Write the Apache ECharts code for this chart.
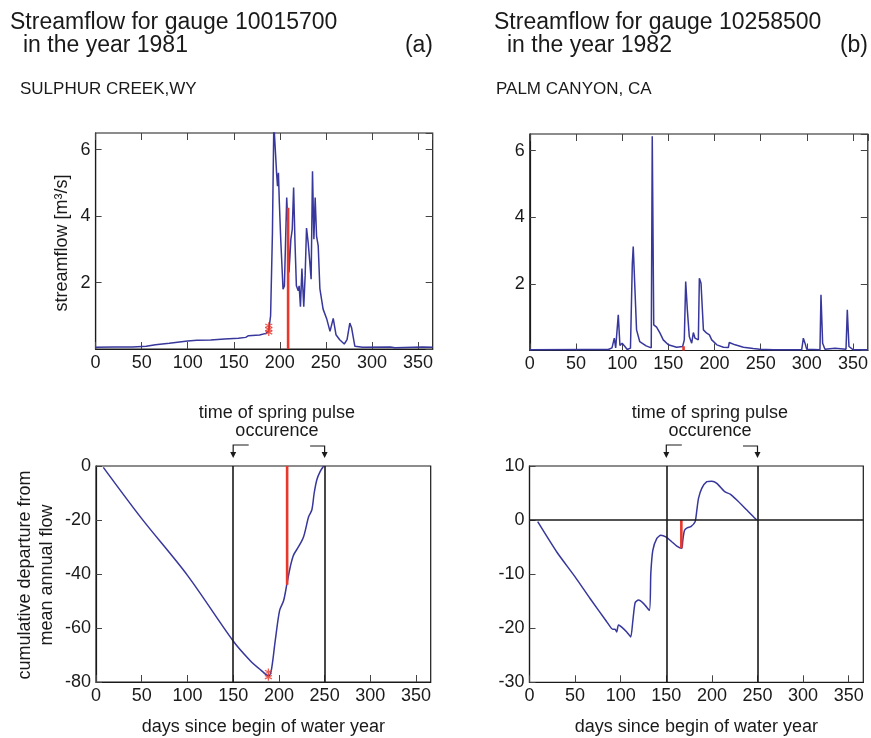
<!DOCTYPE html>
<html>
<head>
<meta charset="utf-8">
<script src="https://cdn.jsdelivr.net/npm/echarts@6/dist/echarts.min.js"></script>
<style>
  html, body { margin: 0; padding: 0; background: #fff; }
  #main { width: 871px; height: 738px; }
</style>
</head>
<body>
<div id="main"></div>
<script>
const FONT = '"Liberation Sans", Arial, sans-serif';
const BLUE = '#37379c';
const RED = '#e8372b';
const INK = '#1a1a1a';

// (a) gauge 10015700, 1981 - daily streamflow [m3/s]
const dayA = [0, 20, 40, 55, 65, 80, 100, 110, 125, 140, 155, 163, 166, 168, 178, 185, 188, 190, 192, 193.5, 195,
  196.5, 197.5, 198.5, 199.5, 201, 203.5, 205, 207.5, 209, 210, 212, 213.5, 215, 216.5, 218, 220, 221, 222.4,
  224, 226, 227.5, 229, 230.8, 232.6, 234, 235.5, 237, 238.4, 239.9, 241.7, 243.5, 247, 251, 254.5, 258, 261,
  265, 270, 273, 276, 278, 281.5, 290, 320, 325, 355, 366];
const flowA = [0.05, 0.06, 0.06, 0.08, 0.13, 0.17, 0.24, 0.26, 0.27, 0.30, 0.32, 0.35, 0.40, 0.34, 0.42, 0.47, 0.55, 1.0, 3.5, 6.8, 6.8,
  5.3, 4.9, 5.3, 4.4, 3.3, 1.8, 1.9, 4.56, 3.6, 2.3, 3.3, 3.6, 4.86, 3.2, 1.9, 1.75, 1.9, 1.27,
  2.42, 1.27, 2.2, 3.64, 3.2, 2.6, 2.1, 5.35, 3.3, 4.56, 3.4, 3.1, 1.82, 1.2, 0.9, 0.53, 0.92, 0.43,
  0.28, 0.15, 0.28, 0.78, 0.63, 0.08, 0.05, 0.06, 0.04, 0.06, 0.05];

// (b) gauge 10258500, 1982 - daily streamflow [m3/s]
const dayB = [0, 60, 85, 89, 91.5, 93, 95.8, 97.6, 100, 103, 105.5, 109, 111, 112, 113.8, 115.6, 119, 126, 131.5,
  132.6, 134.2, 137.3, 141, 144.5, 150, 159, 165.5, 167.3, 168.8, 170.6, 172.7, 175.3, 177.1, 178.9, 180.7,
  182.5, 183.6, 185.4, 188, 191.6, 194.5, 197, 202.5, 209.7, 215, 216, 222.3, 231.3, 242, 249, 264, 294.4,
  296.2, 298, 299.8, 314.2, 315.3, 317.1, 319.6, 330.5, 332.3, 342.4, 343.8, 345.6, 350.3, 366];
const flowB = [0.02, 0.03, 0.03, 0.08, 0.37, 0.08, 1.07, 0.15, 0.22, 0.12, 0.03, 0.07, 2.6, 3.12, 3.07, 0.62, 0.27, 0.14, 0.08,
  6.43, 0.77, 0.70, 0.52, 0.32, 0.17, 0.10, 0.12, 0.32, 2.07, 1.22, 0.42, 0.22, 0.54, 0.37, 0.42,
  0.32, 2.17, 2.02, 0.62, 0.52, 0.47, 0.32, 0.17, 0.10, 0.09, 0.24, 0.17, 0.10, 0.06, 0.04, 0.02, 0.02,
  0.37, 0.22, 0.04, 0.02, 1.67, 0.22, 0.04, 0.07, 0.04, 0.04, 1.22, 0.12, 0.02, 0.02];

// cumulative departure from mean annual flow
const dayCumA = [8, 50, 100, 150, 168.7, 180, 188.7, 191.6, 196, 200.8, 205.2, 208.8, 212.4, 216, 221.5, 227,
  232.5, 236, 238.6, 241.5, 245.2, 249];
const cumA = [-0.5, -19.5, -40.5, -64.8, -72.1, -75.5, -77.7, -75.9, -64.7, -53.5, -49.8, -43.6, -37.4, -33, -29.9, -26.2,
  -18.8, -16.3, -10, -5.1, -2, 0];
const dayCumB = [9, 29.9, 50, 66.4, 84.7, 91.3, 93.8, 95.6, 97.5, 101.1, 106.6, 111, 113.2, 115.8, 119.4, 124.9,
  131.5, 133, 135.2, 139.6, 144, 149.5, 156, 161.5, 167, 168.1, 170, 173.3, 176.9, 181.6, 183.5, 185.3, 189,
  194.4, 199.9, 205.4, 214.5, 220, 227.3, 238.3, 247.5, 249];
const cumB = [-0.3, -5.9, -10.5, -14.5, -18.8, -20.2, -20.2, -20.7, -19.4, -19.8, -20.7, -21.6, -18.8, -15.3, -14.8, -15.4,
  -16.7, -9.9, -5.6, -3.4, -2.8, -3.1, -4.0, -4.8, -5.2, -3.7, -1.9, -1.4, -1.2, -0.3, 1.85, 4.0, 5.9,
  7.1, 7.2, 6.8, 5.2, 4.8, 3.7, 1.85, 0.3, 0];

// time window of the spring pulse occurrence
const pulseWindow = [150, 250];
// spring pulse markers (red)
const onsetDayA = 209;
const onsetFlowA = [0, 4.25];
const onsetCumA = [0, -44];
const onsetDayB = 166.5;
const onsetFlowB = [0, 0.13];
const onsetCumB = [0, -5.2];
const starDayA = [188, 188, 188];
const starFlowA = [0.5, 0.6, 0.7];
const starCumDayA = [188.5, 188.5];
const starCumA = [-76.3, -78.2];

const zip = (xs, ys) => xs.map((x, i) => [x, ys[i]]);
const STAR = 'path://M5,0L5,10M0.7,2.5L9.3,7.5M0.7,7.5L9.3,2.5';

var chart = echarts.init(document.getElementById('main'));

var grids = [
  { left: 95.6, top: 133, width: 337.1, height: 216 },
  { left: 529.8, top: 134, width: 338, height: 216.5 },
  { left: 96, top: 466, width: 334.7, height: 216 },
  { left: 529.5, top: 466, width: 333.8, height: 216.3 }
].map(g => Object.assign({ show: true, borderColor: INK, borderWidth: 1.2, backgroundColor: '#fff', outerBoundsMode: 'none', containLabel: false }, g));

var labelStyle = { fontSize: 18, color: INK, fontFamily: FONT };

function xBottom(gi, withName) {
  var ax = {
    type: 'value', gridIndex: gi, min: 0, max: 366, interval: 50,
    axisLine: { show: true, onZero: false, lineStyle: { color: INK, width: 1.2 } },
    axisTick: { inside: true, length: 7, lineStyle: { color: '#444' } },
    axisLabel: Object.assign({ showMaxLabel: false, margin: 5 }, labelStyle),
    splitLine: { show: false }
  };
  if (withName) {
    ax.name = 'days since begin of water year';
    ax.nameLocation = 'middle';
    ax.nameGap = 36;
    ax.nameTextStyle = labelStyle;
  }
  return ax;
}
function xTop(gi) {
  return {
    type: 'value', gridIndex: gi, position: 'top', min: 0, max: 366, interval: 50,
    axisLine: { show: false, onZero: false },
    axisTick: { inside: true, length: 7, lineStyle: { color: '#444' } },
    axisLabel: { show: false }, splitLine: { show: false }
  };
}
function yLeft(gi, min, max, interval, hideEnds) {
  return {
    type: 'value', gridIndex: gi, min: min, max: max, interval: interval,
    axisLine: { show: true, onZero: false, lineStyle: { color: INK, width: 1.2 } },
    axisTick: { inside: true, length: 6, lineStyle: { color: '#444' } },
    axisLabel: Object.assign({ margin: 5, showMinLabel: !hideEnds, showMaxLabel: !hideEnds }, labelStyle),
    splitLine: { show: false }
  };
}
function yRight(gi) {
  return {
    type: 'value', gridIndex: gi, position: 'right', min: 0, max: 6.5, interval: 2,
    axisLine: { show: false, onZero: false },
    axisTick: { inside: true, length: 7, lineStyle: { color: '#444' } },
    axisLabel: { show: false }, splitLine: { show: false }
  };
}

function flowLine(xi, data) {
  return { type: 'line', xAxisIndex: xi, yAxisIndex: xi, data: data, showSymbol: false, silent: true,
    lineStyle: { color: BLUE, width: 1.5 }, z: 3 };
}
function redLine(xi, day, ys) {
  return { type: 'line', xAxisIndex: xi, yAxisIndex: xi, data: ys.map(v => [day, v]), showSymbol: false, silent: true,
    lineStyle: { color: RED, width: 2.6 }, z: 4 };
}
function stars(xi, days, ys) {
  return { type: 'scatter', xAxisIndex: xi, yAxisIndex: xi, data: zip(days, ys), symbol: STAR, symbolSize: 7,
    silent: true, itemStyle: { color: 'transparent', borderColor: RED, borderWidth: 1.3 }, z: 5 };
}
function pulseMarks(extra) {
  return {
    silent: true, symbol: 'none', label: { show: false },
    lineStyle: { color: INK, width: 1.6, type: 'solid' },
    data: pulseWindow.map(d => ({ xAxis: d })).concat(extra || [])
  };
}

var cumSeriesA = flowLine(2, zip(dayCumA, cumA));
cumSeriesA.smooth = 0.3;
cumSeriesA.markLine = pulseMarks();
var cumSeriesB = flowLine(3, zip(dayCumB, cumB));
cumSeriesB.smooth = 0.2;
cumSeriesB.markLine = pulseMarks([{ yAxis: 0 }]);

var option = {
  animation: false,
  backgroundColor: '#fff',
  textStyle: { fontFamily: FONT },
  grid: grids,
  xAxis: [xBottom(0, false), xBottom(1, false), xBottom(2, true), xBottom(3, true), xTop(0), xTop(1)],
  yAxis: [
    yLeft(0, 0, 6.5, 2, true), yLeft(1, 0, 6.5, 2, true),
    yLeft(2, -80, 0, 20, false), yLeft(3, -30, 10, 10, false),
    yRight(0), yRight(1)
  ],
  series: [
    flowLine(0, zip(dayA, flowA)),
    redLine(0, onsetDayA, onsetFlowA),
    stars(0, starDayA, starFlowA),
    flowLine(1, zip(dayB, flowB)),
    redLine(1, onsetDayB, onsetFlowB),
    cumSeriesA,
    redLine(2, onsetDayA, onsetCumA),
    stars(2, starCumDayA, starCumA),
    cumSeriesB,
    redLine(3, onsetDayB, onsetCumB)
  ]
};
chart.setOption(option);

// texts and the spring pulse brackets
function txt(x, y, text, size, align, extra) {
  return Object.assign({
    type: 'text', x: x, y: y, silent: true,
    style: { text: text, fontSize: size, fontFamily: FONT, fill: INK, align: align || 'left', verticalAlign: 'middle' }
  }, extra || {});
}
function bracket(xi) {
  var x0 = chart.convertToPixel({ xAxisIndex: xi }, pulseWindow[0]);
  var x1 = chart.convertToPixel({ xAxisIndex: xi }, pulseWindow[1]);
  var mid = (x0 + x1) / 2 - 2;
  var stroke = { stroke: INK, lineWidth: 1.2, fill: null };
  return [
    txt(mid, 413, 'time of spring pulse', 18, 'center'),
    txt(mid, 431.5, 'occurence', 18, 'center'),
    { type: 'polyline', silent: true, shape: { points: [[x0 + 15.5, 445], [x0, 445], [x0, 453]] }, style: stroke },
    { type: 'polygon', silent: true, shape: { points: [[x0, 458], [x0 - 3, 452], [x0 + 3, 452]] }, style: { fill: INK } },
    { type: 'polyline', silent: true, shape: { points: [[x1 - 14.5, 446], [x1, 446], [x1, 453]] }, style: stroke },
    { type: 'polygon', silent: true, shape: { points: [[x1, 458], [x1 - 3, 452], [x1 + 3, 452]] }, style: { fill: INK } }
  ];
}

var graphics = [
  txt(10, 22.7, 'Streamflow for gauge 10015700', 23),
  txt(23, 45.3, 'in the year 1981', 23),
  txt(433, 45.3, '(a)', 23, 'right'),
  txt(20, 89.1, 'SULPHUR CREEK,WY', 17),
  txt(494, 22.7, 'Streamflow for gauge 10258500', 23),
  txt(507, 45.3, 'in the year 1982', 23),
  txt(868, 45.3, '(b)', 23, 'right'),
  txt(496, 89.1, 'PALM CANYON, CA', 17),
  txt(61.7, 243, 'streamflow [m³/s]', 18, 'center', { rotation: Math.PI / 2 }),
  {
    type: 'text', x: 35.8, y: 575, rotation: Math.PI / 2, silent: true,
    style: { text: 'cumulative departure from\nmean annual flow', fontSize: 18, lineHeight: 21.7, fontFamily: FONT,
      fill: INK, align: 'center', verticalAlign: 'middle' }
  }
].concat(bracket(2), bracket(3));

chart.setOption({ graphic: graphics });
</script>
</body>
</html>
